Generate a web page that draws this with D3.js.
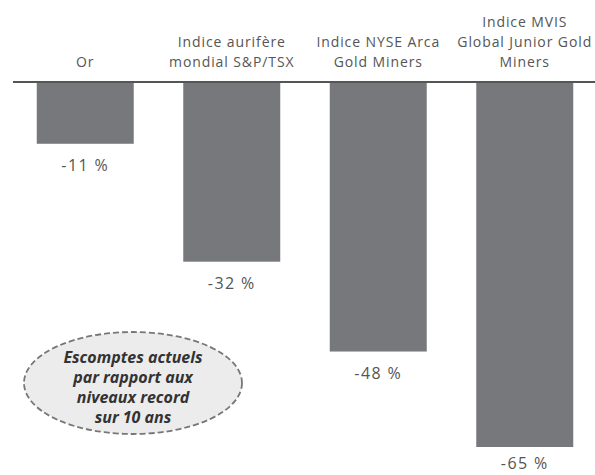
<!DOCTYPE html>
<html>
<head>
<meta charset="utf-8">
<script src="https://cdn.jsdelivr.net/npm/d3@7"></script>
<style>
  body { margin: 0; background: #fff; }
  svg { display: block; }
</style>
</head>
<body>
<div id="chart"></div>
<script>
const categories = [
  ['Or'],
  ['Indice aurifère', 'mondial S&P/TSX'],
  ['Indice NYSE Arca', 'Gold Miners'],
  ['Indice MVIS', 'Global Junior Gold', 'Miners']
];
const values = [-11, -32, -48, -65];
const valueLabels = ['-11 %', '-32 %', '-48 %', '-65 %'];
const noteLines = ['Escomptes actuels', 'par rapport aux', 'niveaux record', 'sur 10 ans'];

const width = 595, height = 475;
const svg = d3.select('#chart').append('svg')
  .attr('width', width)
  .attr('height', height);

const x = d3.scaleBand()
  .domain(d3.range(values.length))
  .range([12, 598])
  .paddingInner(0.338)
  .paddingOuter(0.169);

const y = d3.scaleLinear()
  .domain([0, -65])
  .range([82, 447]);

// bars
svg.append('g').selectAll('rect')
  .data(values)
  .join('rect')
  .attr('x', (d, i) => x(i))
  .attr('y', y(0))
  .attr('width', x.bandwidth())
  .attr('height', d => y(d) - y(0))
  .attr('fill', '#77787b');

// zero line
svg.append('line')
  .attr('x1', 13).attr('x2', width)
  .attr('y1', y(0)).attr('y2', y(0))
  .attr('stroke', '#555')
  .attr('stroke-width', 2);

// value labels under bars (last one squeezed against the bottom edge)
svg.append('g').selectAll('text')
  .data(values)
  .join('text')
  .attr('x', (d, i) => x(i) + x.bandwidth() / 2)
  .attr('y', d => Math.min(y(d) + 27, 469))
  .attr('text-anchor', 'middle')
  .attr('font-family', 'Open Sans, sans-serif')
  .attr('font-size', 16)
  .attr('letter-spacing', 1.4)
  .attr('fill', '#555')
  .text((d, i) => valueLabels[i]);

// category labels, bottom-aligned above the line
const catG = svg.append('g');
categories.forEach((lines, i) => {
  const t = catG.append('text')
    .attr('text-anchor', 'middle')
    .attr('font-family', 'Open Sans, sans-serif')
    .attr('font-size', 14)
    .attr('letter-spacing', 0.9)
    .attr('fill', '#555');
  lines.forEach((s, k) => {
    t.append('tspan')
      .attr('x', x(i) + x.bandwidth() / 2)
      .attr('y', 67 - (lines.length - 1 - k) * 20)
      .text(s);
  });
});

// note ellipse
const note = svg.append('g');
note.append('ellipse')
  .attr('cx', 133).attr('cy', 383)
  .attr('rx', 109).attr('ry', 51)
  .attr('fill', '#ececec')
  .attr('stroke', '#777')
  .attr('stroke-width', 1.8)
  .attr('stroke-dasharray', '6,3');
const nt = note.append('text')
  .attr('text-anchor', 'middle')
  .attr('font-family', 'Open Sans, sans-serif')
  .attr('font-style', 'italic')
  .attr('font-weight', 'bold')
  .attr('font-size', 16)
  .attr('fill', '#333');
noteLines.forEach((s, k) => {
  nt.append('tspan')
    .attr('x', 133)
    .attr('y', 363 + k * 20)
    .text(s);
});
</script>
</body>
</html>
